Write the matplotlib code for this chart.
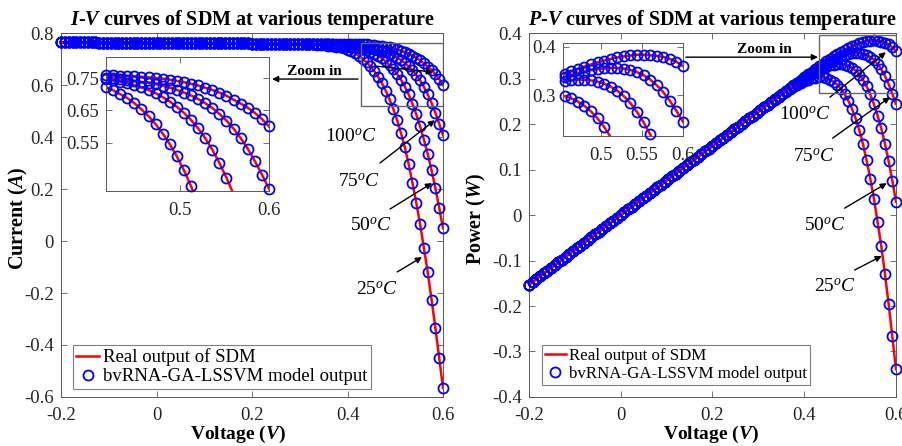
import numpy as np
import matplotlib
matplotlib.use('Agg')
import matplotlib.pyplot as plt
import matplotlib.patches as mpt

plt.rcParams['font.family'] = 'Liberation Serif'
plt.rcParams['mathtext.fontset'] = 'custom'
plt.rcParams['mathtext.rm'] = 'Liberation Serif'
plt.rcParams['mathtext.it'] = 'Liberation Serif:italic'
plt.rcParams['mathtext.bf'] = 'Liberation Serif:bold'
plt.rcParams['mathtext.bfit'] = 'Liberation Serif:italic:bold'

# voltage grid of the SDM simulation (V), step 0.008
volt = np.linspace(-0.2, 0.6, 101)

# current shared by all temperatures, V = -0.2 ... 0.328
i_common = [0.764, 0.764, 0.764, 0.764, 0.764, 0.764, 0.764, 0.764, 0.764, 0.764,
            0.763, 0.763, 0.763, 0.763, 0.763, 0.763, 0.763, 0.763, 0.763, 0.763,
            0.762, 0.762, 0.762, 0.762, 0.762, 0.762, 0.762, 0.762, 0.762, 0.762,
            0.761, 0.761, 0.761, 0.761, 0.761, 0.761, 0.761, 0.761, 0.761, 0.761,
            0.760, 0.760, 0.760, 0.760, 0.760, 0.760, 0.760, 0.760, 0.760, 0.760,
            0.759, 0.759, 0.759, 0.759, 0.759, 0.759, 0.759, 0.759, 0.759, 0.759,
            0.758, 0.758, 0.758, 0.758, 0.758, 0.758, 0.758]

# knee part of each curve, V = 0.336 ... 0.6
i_25 = [0.755, 0.754, 0.753, 0.752, 0.750, 0.748, 0.745, 0.741, 0.736, 0.730, 0.722,
        0.712, 0.700, 0.688, 0.672, 0.653, 0.632, 0.607, 0.578, 0.545, 0.507, 0.464, 0.415,
        0.360, 0.296, 0.224, 0.147, 0.065, -0.028, -0.120, -0.225, -0.335, -0.450, -0.565]
i_50 = [0.757, 0.757, 0.756, 0.756, 0.755, 0.754, 0.753, 0.752, 0.750, 0.748, 0.746,
        0.743, 0.739, 0.734, 0.728, 0.721, 0.713, 0.703, 0.691, 0.677, 0.661, 0.642, 0.620,
        0.594, 0.564, 0.528, 0.487, 0.441, 0.390, 0.335, 0.272, 0.203, 0.128, 0.049]
i_75 = [0.757, 0.757, 0.757, 0.756, 0.756, 0.755, 0.755, 0.754, 0.753, 0.752, 0.751,
        0.749, 0.746, 0.744, 0.741, 0.738, 0.735, 0.731, 0.726, 0.720, 0.713, 0.705, 0.696,
        0.685, 0.672, 0.657, 0.639, 0.618, 0.593, 0.564, 0.531, 0.493, 0.451, 0.407]
i_100 = [0.758, 0.758, 0.758, 0.758, 0.758, 0.758, 0.758, 0.758, 0.758, 0.758, 0.758,
         0.758, 0.757, 0.756, 0.755, 0.754, 0.752, 0.750, 0.748, 0.745, 0.741, 0.737, 0.732,
         0.727, 0.720, 0.713, 0.705, 0.695, 0.683, 0.671, 0.658, 0.642, 0.623, 0.600]

temps = ['25', '50', '75', '100']
curr = [np.array(i_common + t) for t in [i_25, i_50, i_75, i_100]]
power = [volt * c for c in curr]

FS = 13.5
EDGE = '0.35'
TXT = '#262626'


def style(ax, xt, xl, yt, yl, xpad=7, ypad=5):
    ax.set_xticks(xt)
    ax.set_xticklabels(xl)
    ax.set_yticks(yt)
    ax.set_yticklabels(yl)
    ax.tick_params(direction='in', length=4, width=0.6, top=True, right=True,
                   labelsize=FS, colors=EDGE, labelcolor=TXT)
    ax.tick_params(axis='x', pad=xpad)
    ax.tick_params(axis='y', pad=ypad)
    for s in ax.spines.values():
        s.set_color(EDGE)
        s.set_linewidth(0.7)


def curves(ax, ys, xlo=None, ylo=None):
    hl = hm = None
    for y in ys:
        m = np.ones(len(volt), bool)
        if xlo is not None:
            m = (volt >= xlo) & (y >= ylo)
        hm, = ax.plot(volt[m], y[m], 'o', mfc='none', mec='blue', ms=7.2, mew=1.3,
                      clip_on=False, zorder=3)
        hl, = ax.plot(volt, y, '-', color='red', lw=1.8, zorder=2)
    return hl, hm


def arrow(ax, start, end):
    ax.annotate('', xy=end, xytext=start,
                arrowprops=dict(arrowstyle='-|>', color='black', lw=1.0,
                                mutation_scale=9, shrinkA=0, shrinkB=0))


def legend(ax, hl, hm, anchor, fs):
    leg = ax.legend([hl, hm], ['Real output of SDM', 'bvRNA-GA-LSSVM model output'],
                    loc='lower left', bbox_to_anchor=anchor, fontsize=fs,
                    fancybox=False, framealpha=1, edgecolor='0.5', borderpad=0.2,
                    labelspacing=0.1, handlelength=1.2, handletextpad=0.2,
                    borderaxespad=0, numpoints=1)
    leg.get_frame().set_linewidth(0.8)


fig = plt.figure(figsize=(9.03, 4.46), dpi=100)

# ---------------- I-V ----------------
ax1 = fig.add_axes([0.0676, 0.1099, 0.423, 0.816])
hl, hm = curves(ax1, curr)
ax1.set_xlim(-0.2, 0.6)
ax1.set_ylim(-0.6, 0.8)
style(ax1, [-0.2, 0, 0.2, 0.4, 0.6], ['-0.2', '0', '0.2', '0.4', '0.6'],
      [-0.6, -0.4, -0.2, 0, 0.2, 0.4, 0.6, 0.8],
      ['-0.6', '-0.4', '-0.2', '0', '0.2', '0.4', '0.6', '0.8'])
ax1.set_title(r'$\mathbfit{I}$-$\mathbfit{V}$ curves of SDM at various temperature',
              fontsize=14.5, fontweight='bold', pad=6)
ax1.set_xlabel(r'Voltage ($\mathbfit{V}$)', fontsize=FS + 0.5, fontweight='bold')
ax1.set_ylabel(r'Current ($\mathbfit{A}$)', fontsize=FS + 1, fontweight='bold')
ax1.xaxis.set_label_coords(0.463, -0.073)
ax1.yaxis.set_label_coords(-0.082, 0.49)
ax1.add_patch(mpt.Rectangle((0.428, 0.519), 0.172, 0.2425, fill=False,
                            ec='0.4', lw=1.0, zorder=4))
arrow(ax1, (0.422, 0.623), (0.242, 0.623))
ax1.text(0.33, 0.652, 'Zoom in', fontsize=11, fontweight='bold', ha='center', va='center')
lab1 = [((0.462, -0.188), (0.504, -0.119), (0.556, -0.062)),
        ((0.449, 0.058), (0.489, 0.123), (0.577, 0.223)),
        ((0.424, 0.227), (0.468, 0.300), (0.583, 0.465)),
        ((0.407, 0.400), (0.458, 0.673), (0.579, 0.650))]
for t, (tp, a0, a1) in zip(temps, lab1):
    ax1.text(tp[0], tp[1], t + r'$^{o}C$', fontsize=14, ha='center', va='center')
    arrow(ax1, a0, a1)
legend(ax1, hl, hm, (0.03, 0.022), FS)

ins1 = fig.add_axes([0.1174, 0.5717, 0.1805, 0.3004])
curves(ins1, curr, xlo=0.416, ylo=0.40)
ins1.set_xlim(0.416, 0.6)
ins1.set_ylim(0.40, 0.815)
style(ins1, [0.5, 0.6], ['0.5', '0.6'], [0.55, 0.65, 0.75], ['0.55', '0.65', '0.75'],
      xpad=8, ypad=5)

# ---------------- P-V ----------------
ax2 = fig.add_axes([0.5858, 0.1099, 0.4064, 0.816])
curves(ax2, power)
ax2.set_xlim(-0.2, 0.6)
ax2.set_ylim(-0.4, 0.4)
style(ax2, [-0.2, 0, 0.2, 0.4, 0.6], ['-0.2', '0', '0.2', '0.4', '0.6'],
      [-0.4, -0.3, -0.2, -0.1, 0, 0.1, 0.2, 0.3, 0.4],
      ['-0.4', '-0.3', '-0.2', '-0.1', '0', '0.1', '0.2', '0.3', '0.4'])
ax2.set_title(r'$\mathbfit{P}$-$\mathbfit{V}$ curves of SDM at various temperature',
              fontsize=14.5, fontweight='bold', pad=6)
ax2.set_xlabel(r'Voltage ($\mathbfit{V}$)', fontsize=FS + 0.5, fontweight='bold')
ax2.set_ylabel(r'Power ($\mathbfit{W}$)', fontsize=FS + 1, fontweight='bold')
ax2.xaxis.set_label_coords(0.496, -0.073)
ax2.yaxis.set_label_coords(-0.112, 0.49)
ax2.add_patch(mpt.Rectangle((0.432, 0.268), 0.168, 0.1276, fill=False,
                            ec='0.4', lw=1.0, zorder=4))
arrow(ax2, (0.142, 0.347), (0.430, 0.347))
ax2.text(0.314, 0.363, 'Zoom in', fontsize=11, fontweight='bold', ha='center', va='center')
lab2 = [((0.467, -0.158), (0.510, -0.121), (0.569, -0.090)),
        ((0.445, -0.024), (0.488, 0.015), (0.580, 0.070)),
        ((0.421, 0.127), (0.462, 0.169), (0.587, 0.259)),
        ((0.401, 0.220), (0.456, 0.259), (0.578, 0.358))]
for t, (tp, a0, a1) in zip(temps, lab2):
    ax2.text(tp[0], tp[1], t + r'$^{o}C$', fontsize=14, ha='center', va='center')
    arrow(ax2, a0, a1)
legend(ax2, hl, hm, (0.035, 0.033), 12.2)

ins2 = fig.add_axes([0.6235, 0.6951, 0.1329, 0.2085])
curves(ins2, power, xlo=0.454, ylo=0.215)
ins2.set_xlim(0.454, 0.6)
ins2.set_ylim(0.215, 0.408)
style(ins2, [0.5, 0.55, 0.6], ['0.5', '0.55', '0.6'], [0.3, 0.4], ['0.3', '0.4'],
      xpad=8, ypad=5)

fig.savefig('out.png', dpi=100)
